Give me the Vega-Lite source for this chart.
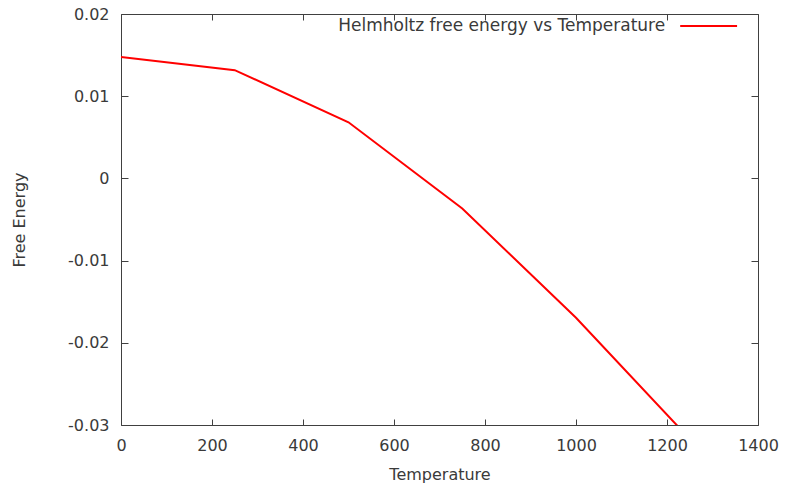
{
  "$schema": "https://vega.github.io/schema/vega-lite/v6.json",
  "width": 637,
  "height": 411,
  "autosize": {"type": "none"},
  "padding": {"left": 121, "top": 14, "right": 27, "bottom": 59},
  "background": "white",
  "config": {
    "view": {"stroke": null},
    "font": "DejaVu Sans",
    "axis": {
      "grid": false,
      "domainColor": "#404040",
      "tickColor": "#404040",
      "labelColor": "#3a3a3a",
      "titleColor": "#3a3a3a",
      "labelFont": "DejaVu Sans",
      "titleFont": "DejaVu Sans",
      "labelFontSize": 16,
      "titleFontSize": 16,
      "titleFontWeight": "normal"
    }
  },
  "data": {
    "values": [
      {"Temperature": 0, "FreeEnergy": 0.01476},
      {"Temperature": 250, "FreeEnergy": 0.01317},
      {"Temperature": 500, "FreeEnergy": 0.00683},
      {"Temperature": 750, "FreeEnergy": -0.00366},
      {"Temperature": 1000, "FreeEnergy": -0.01695},
      {"Temperature": 1250, "FreeEnergy": -0.0317}
    ]
  },
  "layer": [
    {
      "mark": {"type": "line", "color": "#ff0000", "strokeWidth": 2, "clip": true},
      "encoding": {
        "x": {
          "field": "Temperature", "type": "quantitative",
          "scale": {"domain": [0, 1400], "nice": false},
          "axis": {"orient": "bottom", "title": "Temperature", "values": [0, 200, 400, 600, 800, 1000, 1200, 1400],
                   "format": "d", "tickSize": -6, "labelPadding": 18, "titlePadding": 13, "labelFlush": false}
        },
        "y": {
          "field": "FreeEnergy", "type": "quantitative",
          "scale": {"domain": [-0.03, 0.02], "nice": false, "zero": false},
          "axis": {"orient": "left", "title": "Free Energy", "values": [-0.03, -0.02, -0.01, 0, 0.01, 0.02],
                   "labelExpr": "toString(round(datum.value*100)/100)",
                   "tickSize": -7, "labelPadding": 19, "titlePadding": 40}
        }
      }
    },
    {
      "data": {"values": [{"series": "Helmholtz free energy vs Temperature"}]},
      "mark": {"type": "rule", "color": "#ff0000", "strokeWidth": 2},
      "encoding": {
        "x": {"datum": 1229, "type": "quantitative",
              "axis": {"orient": "top", "title": null, "labels": false, "values": [0, 200, 400, 600, 800, 1000, 1200, 1400], "tickSize": -6}},
        "x2": {"datum": 1354},
        "y": {"datum": 0.01854, "type": "quantitative",
              "axis": {"orient": "right", "title": null, "labels": false, "values": [-0.03, -0.02, -0.01, 0, 0.01, 0.02], "tickSize": -7}}
      }
    },
    {
      "data": {"values": [{"series": "Helmholtz free energy vs Temperature"}]},
      "mark": {"type": "text", "align": "right", "baseline": "middle", "fontSize": 17, "font": "DejaVu Sans", "color": "#3a3a3a"},
      "encoding": {
        "x": {"datum": 1196, "type": "quantitative", "axis": null},
        "y": {"datum": 0.01854, "type": "quantitative", "axis": null},
        "text": {"field": "series"}
      }
    }
  ],
  "resolve": {"axis": {"x": "independent", "y": "independent"}}
}
